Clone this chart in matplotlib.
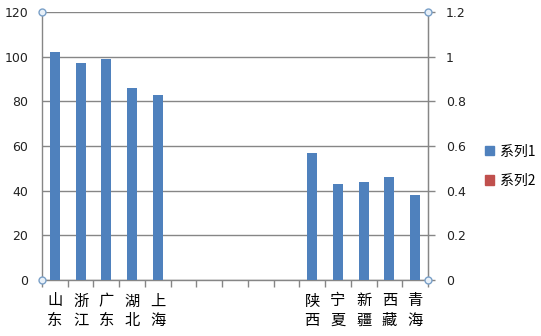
import numpy as np
import matplotlib
matplotlib.use('Agg')
from matplotlib import pyplot as plt
from matplotlib.patches import Patch

plt.rcParams['font.family'] = ['DejaVu Sans', 'Noto Sans CJK SC']

# dados
cats = ['山\n东', '浙\n江', '广\n东', '湖\n北', '上\n海', '', '', '', '', '',
        '陕\n西', '宁\n夏', '新\n疆', '西\n藏', '青\n海']
serie1 = [102, 97, 99, 86, 83, np.nan, np.nan, np.nan, np.nan, np.nan,
          57, 43, 44, 46, 38]
left_ticks = [0, 20, 40, 60, 80, 100, 120]
right_ticks = [0, 0.2, 0.4, 0.6, 0.8, 1, 1.2]
right_labels = ['0', '0.2', '0.4', '0.6', '0.8', '1', '1.2']

azul = '#4F81BD'
vermelho = '#C0504D'
cinza = '#868686'

fig = plt.figure(figsize=(5.41, 3.36), dpi=100)
ax = fig.add_axes([42/541, 1-280/336, (428-42)/541, (280-12)/336])

x = np.arange(len(cats))
ax.bar(x, serie1, width=0.39, color=azul, zorder=3)
ax.set_xlim(-0.5, len(cats)-0.5)
ax.set_ylim(0, 120)
ax.set_yticks(left_ticks)
ax.yaxis.grid(True, color=cinza, linewidth=1.0, zorder=0)
ax.tick_params(axis='y', length=0, pad=10, labelsize=9, colors='#222222')
ax.set_xticks(x)
ax.set_xticklabels(cats, family=['Noto Sans CJK SC'], fontsize=11, linespacing=1.2)
ax.set_xticks(np.arange(-0.5, len(cats), 1), minor=True)
ax.tick_params(axis='x', which='major', length=0, pad=9)
ax.tick_params(axis='x', which='minor', length=5, color=cinza, width=1)

for s in ['top']:
    ax.spines[s].set_visible(False)
for s in ['left', 'bottom', 'right']:
    ax.spines[s].set_color(cinza)
    ax.spines[s].set_linewidth(1)

ax2 = ax.twinx()
ax2.set_ylim(0, 1.2)
ax2.set_yticks(right_ticks)
ax2.set_yticklabels(right_labels)
ax2.tick_params(axis='y', length=5, width=1, pad=8, labelsize=9, colors=cinza, labelcolor='#222222')
for s in ['top', 'left', 'bottom']:
    ax2.spines[s].set_visible(False)
ax2.spines['right'].set_color(cinza)

# alças de seleção nos cantos
ax2.plot([0, 0, 1, 1], [0, 1, 0, 1], 'o', transform=ax.transAxes, ms=5,
         mfc='#E8F0F8', mec='#7AA0C8', mew=1, clip_on=False, zorder=10)

handles = [Patch(color=azul), Patch(color=vermelho)]
fig.legend(handles, ['系列1', '系列2'], loc='center left',
           bbox_to_anchor=(472/541, 1-166/336), frameon=False,
           prop={'family': ['Noto Sans CJK SC'], 'size': 10},
           handlelength=0.7, handleheight=0.7, handletextpad=0.4, labelspacing=1.1)

fig.savefig('out.png', dpi=100)
